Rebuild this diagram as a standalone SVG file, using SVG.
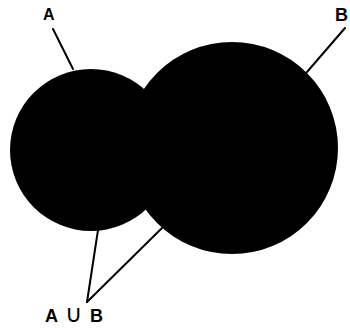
<svg xmlns="http://www.w3.org/2000/svg" width="350" height="328" viewBox="0 0 350 328">
<style>
.set{fill:#000}
.lbl{font-family:"Liberation Sans",Arial,sans-serif;font-weight:bold;fill:#000}
.ln{stroke:#000;stroke-width:2;fill:none;stroke-linecap:round}
</style>
<rect width="350" height="328" fill="#fff"/>
<g id="setA"><circle class="set" cx="91" cy="150" r="81"/></g>
<g id="setB"><circle class="set" cx="232" cy="148" r="106"/></g>
<g id="connectors">
<line class="ln" x1="53" y1="29" x2="73" y2="69"/>
<line class="ln" x1="345" y1="28" x2="307" y2="72"/>
<line class="ln" x1="87" y1="302" x2="98" y2="230"/>
<line class="ln" x1="87" y1="302" x2="162" y2="228"/>
</g>
<g id="labelA"><text class="lbl" x="43" y="20" font-size="16">A</text></g>
<g id="labelB"><text class="lbl" x="335" y="21" font-size="18">B</text></g>
<g id="labelUnion"><text class="lbl" y="322" font-size="18"><tspan x="45">A</tspan><tspan x="65" font-family="DejaVu Sans,sans-serif" font-weight="normal" font-size="24">∪</tspan><tspan x="90">B</tspan></text></g>
</svg>
